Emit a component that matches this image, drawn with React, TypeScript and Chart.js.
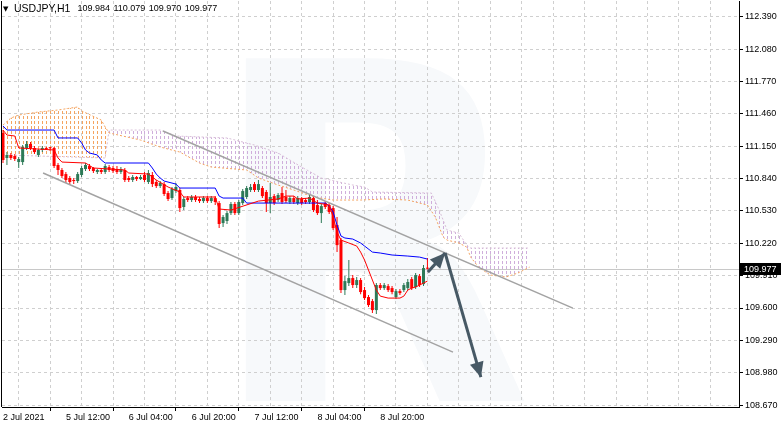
import React, { useEffect, useRef } from 'react';
import { Chart, registerables } from 'chart.js';

Chart.register(...registerables);

const SYMBOL = 'USDJPY,H1';

// H1 candles, bar index 0 = 2 Jul 2021 20:00
const opens = [
  111.278, 111.038, 111.067, 111.057, 110.999, 110.999, 111.134, 111.172, 111.134, 111.067,
  111.115, 111.134, 111.134, 111.134, 110.971, 110.923, 110.884, 110.846, 110.827, 110.817,
  110.875, 110.932, 110.961, 110.942, 110.904, 110.923, 110.904, 110.951, 110.942, 110.932,
  110.904, 110.923, 110.846, 110.827, 110.856, 110.836, 110.875, 110.808, 110.875, 110.808,
  110.769, 110.788, 110.702, 110.654, 110.721, 110.731, 110.568, 110.654, 110.635, 110.664,
  110.645, 110.625, 110.654, 110.625, 110.654, 110.606, 110.414, 110.434, 110.510, 110.597,
  110.510, 110.606, 110.664, 110.731, 110.788, 110.731, 110.750, 110.712, 110.606, 110.673,
  110.635, 110.702, 110.664, 110.616, 110.654, 110.606, 110.645, 110.635, 110.616, 110.654,
  110.587, 110.510, 110.606, 110.587, 110.558, 110.395, 110.251, 109.772, 109.839, 109.887,
  109.820, 109.868, 109.772, 109.705, 109.666, 109.580, 109.820, 109.791, 109.810, 109.791,
  109.705, 109.762, 109.772, 109.791, 109.877, 109.801, 109.906, 109.829, 109.984,
];
const highs = [
  111.306, 111.095, 111.086, 111.076, 111.047, 111.162, 111.201, 111.191, 111.153, 111.124,
  111.153, 111.143, 111.143, 111.143, 110.990, 110.942, 110.904, 110.865, 110.846, 110.904,
  110.961, 110.990, 110.980, 110.951, 110.932, 110.942, 110.980, 110.971, 110.961, 110.961,
  110.951, 110.942, 110.865, 110.875, 110.865, 110.875, 110.904, 110.923, 110.904, 110.827,
  110.817, 110.808, 110.721, 110.760, 110.798, 110.750, 110.664, 110.673, 110.683, 110.683,
  110.664, 110.673, 110.673, 110.673, 110.673, 110.625, 110.491, 110.530, 110.616, 110.616,
  110.635, 110.740, 110.769, 110.788, 110.808, 110.827, 110.769, 110.731, 110.798, 110.693,
  110.702, 110.760, 110.731, 110.673, 110.673, 110.673, 110.664, 110.654, 110.683, 110.673,
  110.635, 110.597, 110.625, 110.606, 110.577, 110.472, 110.271, 109.906, 110.060, 109.916,
  109.897, 109.887, 109.801, 109.724, 109.686, 109.839, 109.839, 109.839, 109.829, 109.810,
  109.781, 109.781, 109.839, 109.877, 109.897, 109.935, 109.925, 110.012, 110.079,
];
const lows = [
  110.990, 110.971, 111.019, 111.009, 110.942, 110.971, 111.115, 111.115, 111.076, 111.047,
  111.095, 111.115, 111.105, 110.942, 110.875, 110.846, 110.798, 110.779, 110.788, 110.798,
  110.856, 110.913, 110.913, 110.894, 110.884, 110.884, 110.884, 110.904, 110.894, 110.884,
  110.884, 110.808, 110.808, 110.808, 110.817, 110.827, 110.808, 110.788, 110.760, 110.750,
  110.750, 110.673, 110.625, 110.635, 110.702, 110.520, 110.539, 110.616, 110.616, 110.616,
  110.606, 110.606, 110.606, 110.606, 110.587, 110.366, 110.376, 110.405, 110.491, 110.491,
  110.491, 110.587, 110.645, 110.712, 110.712, 110.712, 110.654, 110.520, 110.510, 110.587,
  110.616, 110.597, 110.606, 110.597, 110.597, 110.587, 110.587, 110.597, 110.597, 110.520,
  110.491, 110.414, 110.549, 110.501, 110.347, 110.136, 109.743, 109.724, 109.810, 109.791,
  109.791, 109.733, 109.676, 109.609, 109.551, 109.542, 109.772, 109.772, 109.753, 109.733,
  109.686, 109.724, 109.753, 109.772, 109.772, 109.781, 109.801, 109.810, 109.970,
];
const closes = [
  111.019, 111.067, 111.038, 111.028, 111.028, 111.143, 111.172, 111.134, 111.095, 111.115,
  111.134, 111.124, 111.132, 110.961, 110.923, 110.865, 110.827, 110.808, 110.817, 110.884,
  110.942, 110.971, 110.932, 110.913, 110.923, 110.904, 110.961, 110.923, 110.913, 110.904,
  110.932, 110.827, 110.827, 110.856, 110.836, 110.856, 110.827, 110.894, 110.788, 110.769,
  110.798, 110.693, 110.645, 110.740, 110.760, 110.558, 110.645, 110.635, 110.664, 110.635,
  110.625, 110.654, 110.625, 110.654, 110.616, 110.405, 110.472, 110.510, 110.597, 110.510,
  110.616, 110.721, 110.750, 110.760, 110.731, 110.788, 110.673, 110.606, 110.664, 110.606,
  110.683, 110.616, 110.625, 110.654, 110.616, 110.654, 110.606, 110.616, 110.664, 110.539,
  110.510, 110.577, 110.568, 110.520, 110.366, 110.203, 109.772, 109.858, 109.887, 109.820,
  109.868, 109.753, 109.695, 109.628, 109.580, 109.820, 109.791, 109.820, 109.772, 109.753,
  109.762, 109.743, 109.820, 109.849, 109.791, 109.916, 109.820, 109.983, 109.977,
];

// Ichimoku lines: [bar, price]
const tenkan: [number, number][] = [
  [0, 111.306], [1, 111.258], [3, 111.249], [4, 111.134], [13, 111.115], [14, 111.038], [15, 110.999],
  [21, 110.990], [23, 110.942], [31, 110.923], [32, 110.894], [37, 110.884], [39, 110.827], [42, 110.760],
  [45, 110.712], [46, 110.664], [54, 110.664], [55, 110.549], [58, 110.539], [65, 110.625], [70, 110.645],
  [72, 110.673], [74, 110.673], [75, 110.645], [78, 110.654], [80, 110.606], [83, 110.587], [84, 110.472],
  [85, 110.328], [86, 110.251], [88, 110.223], [90, 110.194], [91, 110.136], [92, 110.060], [93, 109.964],
  [94, 109.868], [95, 109.772], [96, 109.714], [98, 109.695], [101, 109.695], [102, 109.714], [103, 109.772],
  [104, 109.791], [105, 109.801], [106, 109.820], [107, 109.839], [108, 109.858],
];
const kijun: [number, number][] = [
  [0, 111.345], [1, 111.306], [13, 111.306], [14, 111.230], [19, 111.230], [20, 111.182], [21, 111.115],
  [22, 111.086], [24, 111.067], [25, 111.019], [26, 110.990], [37, 110.990], [38, 110.942], [39, 110.884],
  [40, 110.846], [41, 110.817], [44, 110.788], [45, 110.750], [54, 110.750], [55, 110.673], [56, 110.654],
  [61, 110.654], [62, 110.606], [82, 110.606], [83, 110.577], [84, 110.520], [85, 110.395], [86, 110.290],
  [87, 110.271], [89, 110.261], [91, 110.223], [92, 110.194], [94, 110.136], [96, 110.127], [99, 110.108],
  [103, 110.098], [106, 110.088], [108, 110.069],
];
const senkouA: [number, number][] = [
  [0, 111.354], [2, 111.421], [4, 111.450], [9, 111.479], [14, 111.498], [19, 111.527], [20, 111.489],
  [25, 111.402], [26, 111.335], [27, 111.278], [35, 111.210], [40, 111.143], [45, 111.095], [50, 110.990],
  [53, 110.951], [62, 110.923], [65, 110.846], [70, 110.779], [74, 110.731], [79, 110.664], [84, 110.635],
  [91, 110.635], [97, 110.645], [103, 110.635], [108, 110.587], [110, 110.472], [112, 110.280],
  [113, 110.251], [116, 110.223], [118, 110.184], [119, 110.088], [121, 109.992], [124, 109.916],
  [128, 109.897], [131, 109.935], [134, 109.992],
];
const senkouB: [number, number][] = [
  [0, 111.067], [26, 111.038], [27, 111.306], [40, 111.306], [44, 111.249], [57, 111.230], [64, 111.162],
  [70, 111.086], [76, 110.951], [81, 110.846], [89, 110.779], [92, 110.760], [94, 110.712], [109, 110.702],
  [111, 110.539], [113, 110.347], [116, 110.318], [118, 110.203], [119, 110.175], [134, 110.175],
];

// Drawn objects: [bar, price] end points
const channelUpper: [number, number][] = [[40.7, 111.297], [145, 109.599]];
const channelLower: [number, number][] = [[10.2, 110.894], [114.5, 109.177]];
const arrowUp: [number, number][] = [[108.1, 109.944], [112.5, 110.127]];
const arrowDown: [number, number][] = [[112.5, 110.127], [121.6, 108.937]];

const yTicks = [108.67, 108.98, 109.29, 109.6, 109.91, 110.22, 110.53, 110.84, 111.15, 111.46, 111.77, 112.08, 112.39];
const gridBars = [0, 8, 16, 24, 32, 40, 48, 56, 64, 72, 80, 88, 96, 104, 112, 120, 128, 136, 144, 152, 160, 168, 176, 184];
const labelBars = [0, 16, 32, 48, 64, 80, 96];
const labelTexts = ['2 Jul 2021', '5 Jul 12:00', '6 Jul 04:00', '6 Jul 20:00', '7 Jul 12:00', '8 Jul 04:00', '8 Jul 20:00'];

const FONT = '"Liberation Sans", Arial, sans-serif';
const GREEN = '#2d7a57';
const RED = '#ff0000';
const ARROW = '#475965';
const KUMO_UP = '#f4a460';
const KUMO_DOWN = '#cfaedb';

const pts = (arr: [number, number][]) => arr.map(([x, y]) => ({ x, y }));

export default function App() {
  const ref = useRef<HTMLCanvasElement>(null);

  useEffect(() => {
    document.body.style.margin = '0';
    const canvas = ref.current!;
    const last = closes.length - 1;
    const candleColors = closes.map((c, i) => (c >= opens[i] ? GREEN : RED));
    const cloudBars = senkouA[senkouA.length - 1][0];

    const watermark = {
      id: 'watermark',
      beforeDraw(chart: any) {
        const { ctx, chartArea: a } = chart;
        ctx.save();
        ctx.fillStyle = '#f7f9fb';
        ctx.font = 'bold 470px "DejaVu Sans"';
        ctx.textBaseline = 'alphabetic';
        ctx.translate(a.left + 205, a.bottom - 6);
        ctx.scale(0.9, 1);
        ctx.fillText('R', 0, 0);
        ctx.restore();
      },
    };

    // bid line + Kumo hatching (dotted histogram between Senkou A and B)
    const underlay = {
      id: 'underlay',
      beforeDatasetsDraw(chart: any) {
        const { ctx, chartArea: a, scales } = chart;
        const y = Math.round(scales.y.getPixelForValue(closes[last])) + 0.5;
        ctx.save();
        ctx.strokeStyle = '#c8c8c8';
        ctx.lineWidth = 1;
        ctx.beginPath();
        ctx.moveTo(a.left, y);
        ctx.lineTo(a.right, y);
        ctx.stroke();
        ctx.restore();

        const ptsA = chart.getDatasetMeta(1).data;
        const ptsB = chart.getDatasetMeta(0).data;
        const region = (p: any[], edge: number) => {
          const path = new Path2D();
          path.moveTo(p[0].x, edge);
          p.forEach((q: any) => path.lineTo(q.x, q.y));
          path.lineTo(p[p.length - 1].x, edge);
          path.closePath();
          return path;
        };
        const hatch = (clipA: Path2D, clipB: Path2D, color: string) => {
          ctx.save();
          ctx.beginPath();
          ctx.rect(a.left, a.top, a.right - a.left, a.bottom - a.top);
          ctx.clip();
          ctx.clip(clipA);
          ctx.clip(clipB);
          ctx.strokeStyle = color;
          ctx.lineWidth = 1;
          ctx.setLineDash([3, 2]);
          ctx.beginPath();
          for (let i = 0; i <= cloudBars; i++) {
            const x = Math.round(scales.x.getPixelForValue(i)) + 0.5;
            ctx.moveTo(x, a.top);
            ctx.lineTo(x, a.bottom);
          }
          ctx.stroke();
          ctx.restore();
        };
        // A above B -> up kumo (sandy brown); B above A -> down kumo (thistle)
        hatch(region(ptsA, a.bottom), region(ptsB, a.top), KUMO_UP);
        hatch(region(ptsA, a.top), region(ptsB, a.bottom), KUMO_DOWN);
      },
    };

    const overlay = {
      id: 'overlay',
      afterDraw(chart: any) {
        const { ctx, chartArea: a, scales } = chart;
        ctx.save();
        ctx.strokeStyle = '#000';
        ctx.lineWidth = 1;
        ctx.beginPath();
        ctx.moveTo(a.left - 0.5, a.top);
        ctx.lineTo(a.left - 0.5, a.bottom);
        ctx.stroke();

        ctx.fillStyle = ARROW;
        [arrowUp, arrowDown].forEach((arr) => {
          const x0 = scales.x.getPixelForValue(arr[0][0]);
          const y0 = scales.y.getPixelForValue(arr[0][1]);
          const x1 = scales.x.getPixelForValue(arr[1][0]);
          const y1 = scales.y.getPixelForValue(arr[1][1]);
          const ang = Math.atan2(y1 - y0, x1 - x0);
          const len = 15;
          const half = 7;
          const bx = x1 - len * Math.cos(ang);
          const by = y1 - len * Math.sin(ang);
          ctx.beginPath();
          ctx.moveTo(x1, y1);
          ctx.lineTo(bx + half * Math.sin(ang), by - half * Math.cos(ang));
          ctx.lineTo(bx - half * Math.sin(ang), by + half * Math.cos(ang));
          ctx.closePath();
          ctx.fill();
        });

        const yp = Math.round(scales.y.getPixelForValue(closes[last]));
        ctx.fillStyle = '#000';
        ctx.fillRect(a.right + 1, yp - 6, 41, 12);
        ctx.fillStyle = '#fff';
        ctx.font = `9px ${FONT}`;
        ctx.textBaseline = 'middle';
        ctx.textAlign = 'left';
        ctx.fillText(closes[last].toFixed(3), a.right + 5, yp + 0.5);

        // title: symbol and last bar O H L C
        ctx.fillStyle = '#000';
        ctx.font = `7px "DejaVu Sans"`;
        ctx.fillText('▼', a.left + 1, a.top + 8);
        let tx = a.left + 12;
        ctx.font = `10.5px ${FONT}`;
        ctx.fillText(SYMBOL, tx, a.top + 8);
        tx += ctx.measureText(SYMBOL).width + 7;
        ctx.font = `9px ${FONT}`;
        [opens[last], highs[last], lows[last], closes[last]].forEach((v) => {
          const s = v.toFixed(3);
          ctx.fillText(s, tx, a.top + 8);
          tx += ctx.measureText(s).width + 3.5;
        });
        ctx.restore();
      },
    };

    const chart = new Chart(canvas, {
      type: 'bar',
      data: {
        datasets: [
          { type: 'line', label: 'Senkou Span B', data: pts(senkouB), borderColor: '#d8bfd8', borderWidth: 1, borderDash: [2, 2], pointRadius: 0, fill: false, order: 9 } as any,
          { type: 'line', label: 'Senkou Span A', data: pts(senkouA), borderColor: KUMO_UP, borderWidth: 1, borderDash: [2, 2], pointRadius: 0, fill: false, order: 8 } as any,
          { type: 'bar', label: 'wicks', data: lows.map((l, i) => ({ x: i, y: [l, highs[i]] })), backgroundColor: candleColors, barThickness: 1, grouped: false, inflateAmount: 0, borderWidth: 0, order: 5 } as any,
          { type: 'bar', label: 'bodies', data: opens.map((o, i) => ({ x: i, y: [o, closes[i]] })), backgroundColor: candleColors, barThickness: 3, grouped: false, inflateAmount: 0, minBarLength: 1, borderWidth: 0, order: 4 } as any,
          { type: 'line', label: 'Kijun-sen', data: pts(kijun), borderColor: '#0000ff', borderWidth: 1, pointRadius: 0, fill: false, order: 3 } as any,
          { type: 'line', label: 'Tenkan-sen', data: pts(tenkan), borderColor: '#ff0000', borderWidth: 1, pointRadius: 0, fill: false, order: 2 } as any,
          { type: 'line', label: 'channel upper', data: pts(channelUpper), borderColor: '#a3a3a3', borderWidth: 1.5, pointRadius: 0, fill: false, order: 1 } as any,
          { type: 'line', label: 'channel lower', data: pts(channelLower), borderColor: '#a3a3a3', borderWidth: 1.5, pointRadius: 0, fill: false, order: 1 } as any,
          { type: 'line', label: 'arrow up', data: pts(arrowUp), borderColor: ARROW, borderWidth: 3, pointRadius: 0, fill: false, order: 0 } as any,
          { type: 'line', label: 'arrow down', data: pts(arrowDown), borderColor: ARROW, borderWidth: 3, pointRadius: 0, fill: false, order: 0 } as any,
        ],
      },
      options: {
        responsive: false,
        animation: false,
        devicePixelRatio: 1,
        events: [],
        layout: { padding: { left: 2, top: 1, right: 0, bottom: 0 } },
        plugins: { legend: { display: false }, tooltip: { enabled: false }, title: { display: false } },
        scales: {
          x: {
            type: 'linear', min: -0.254, max: 187.28, offset: false, bounds: 'data',
            afterBuildTicks: (s: any) => { s.ticks = gridBars.map((v) => ({ value: v })); },
            afterFit: (s: any) => { s.height = 21; s.paddingLeft = 0; s.paddingRight = 0; },
            ticks: {
              autoSkip: false, maxRotation: 0, minRotation: 0, align: 'start', padding: 1, color: '#000',
              font: { family: FONT, size: 9 },
              callback: (v: any) => { const k = labelBars.indexOf(Number(v)); return k >= 0 ? labelTexts[k] : ''; },
            },
            grid: {
              color: '#cfcfcf', lineWidth: 1, tickLength: 4,
              tickColor: (c: any) => (c.tick && labelBars.indexOf(c.tick.value) >= 0 ? '#000' : 'rgba(0,0,0,0)'),
            },
            border: { display: true, color: '#000', width: 1, dash: [3, 3] },
          } as any,
          y: {
            type: 'linear', position: 'right', min: 108.651, max: 112.543, bounds: 'data',
            afterBuildTicks: (s: any) => { s.ticks = yTicks.map((v) => ({ value: v })); },
            afterFit: (s: any) => { s.width = 43; s.paddingTop = 0; s.paddingBottom = 0; },
            ticks: { autoSkip: false, padding: 2, color: '#000', font: { family: FONT, size: 9 }, callback: (v: any) => Number(v).toFixed(3) },
            grid: { color: '#cfcfcf', lineWidth: 1, tickLength: 4, tickColor: '#000' },
            border: { display: true, color: '#000', width: 1, dash: [3, 3] },
          } as any,
        },
      },
      plugins: [watermark, underlay, overlay],
    } as any);

    return () => chart.destroy();
  }, []);

  return (
    <div style={{ width: 782, height: 428, background: '#fff' }}>
      <canvas ref={ref} width={782} height={428} style={{ display: 'block' }} />
    </div>
  );
}
